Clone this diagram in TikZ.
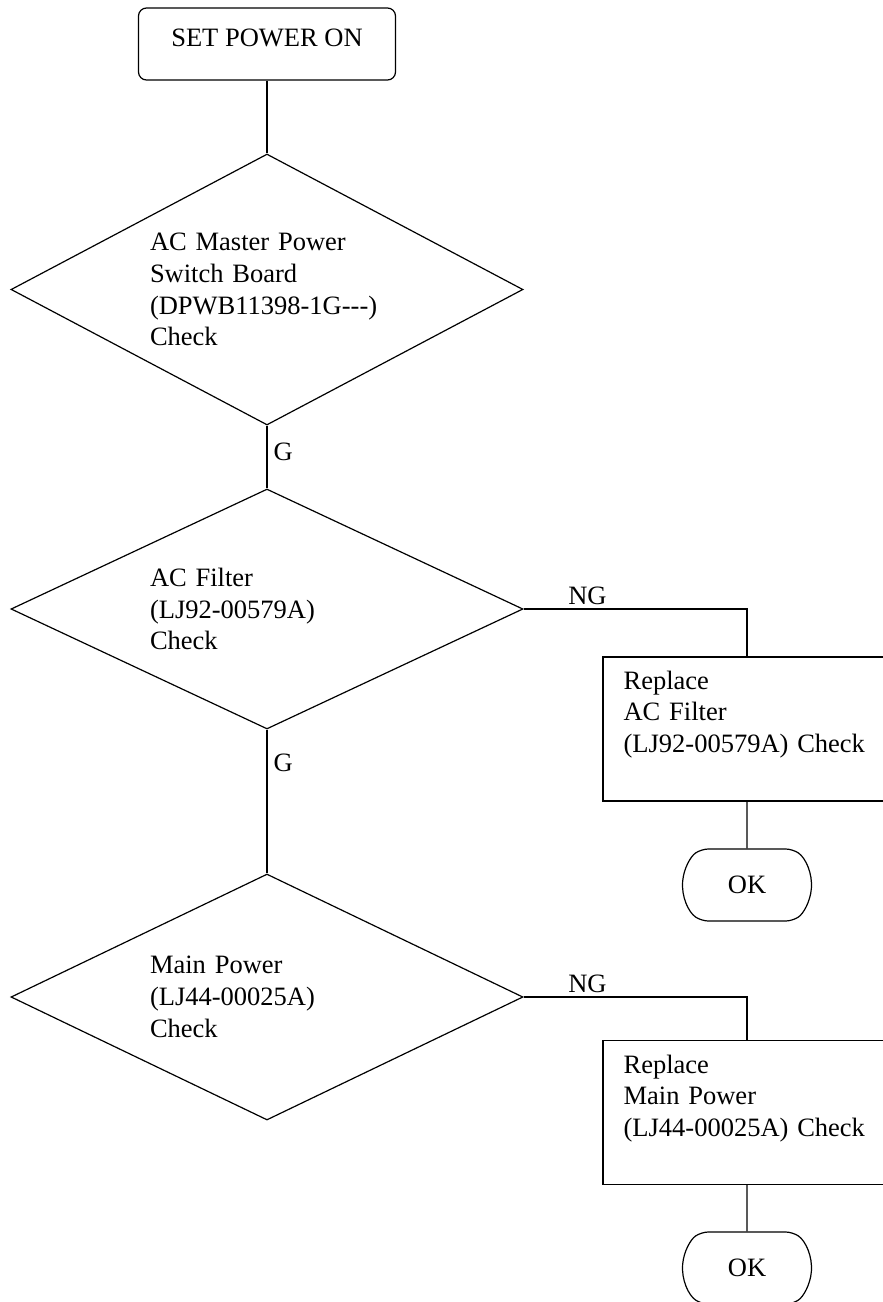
\documentclass[tikz,border=0pt]{standalone}
\usepackage{fontspec}
\setmainfont{Liberation Serif}
\usepackage{tikz}
\usetikzlibrary{positioning, shapes.geometric, shapes.misc}

\begin{document}
\begin{tikzpicture}[x=1pt, y=-1pt, line width=1.2pt,
	font=\fontsize{26.5}{31.7}\selectfont,
	startbox/.style={draw, rectangle, rounded corners=8pt, minimum width=257, minimum height=72, text depth=13pt},
	check/.style={draw, diamond, aspect=1.9, inner sep=0, minimum width=512, text width=234, align=left},
	repbox/.style={draw, rectangle, minimum width=288, minimum height=144},
	reptext/.style={inner sep=0, text width=250, align=left, anchor=base west},
	okbox/.style={draw, rounded rectangle, rounded rectangle arc length=110, rounded corners=7pt, minimum width=129, minimum height=72, inner sep=0},
	lbl/.style={inner sep=3pt}]
\useasboundingbox (0,0) rectangle (883,1302);

\node[startbox] (start) at (267,44) {SET POWER ON};
\node[check, minimum height=271] (acm) at (267,289.5) {AC Master Power\\Switch Board\\(DPWB11398-1G-{}-{}-)\\Check};
\node[check, minimum height=240] (acf) at (267,609) {AC Filter\\(LJ92-00579A)\\Check};
\node[check, minimum height=246] (mpw) at (267,997) {Main Power\\(LJ44-00025A)\\Check};

% NG side
\node[repbox] (repf) at (747,729) {};
\node[reptext] (repftxt) at (623,689) {Replace\\AC Filter\\(LJ92-00579A) Check};
\node[okbox] (okf) at (747,885) {OK};
\node[repbox] (repm) at (747,1112.5) {};
\node[reptext] (repmtxt) at (623,1073) {Replace\\Main Power\\(LJ44-00025A) Check};
\node[okbox] (okm) at (747,1268) {OK};

\draw (start) -- (acm);
\draw (acm) -- node[lbl, right=3pt, pos=0.42] (g1) {G} (acf);
\draw (acf) -- node[lbl, right=3pt, pos=0.23] (g2) {G} (mpw);
\draw (acf.east) -| node[lbl, above=1pt, pos=0.143] (ng1) {NG} (repf.north);
\draw (mpw.east) -| node[lbl, above=1pt, pos=0.143] (ng2) {NG} (repm.north);
\draw (repf) -- (okf);
\draw (repm) -- (okm);
\end{tikzpicture}
\end{document}
